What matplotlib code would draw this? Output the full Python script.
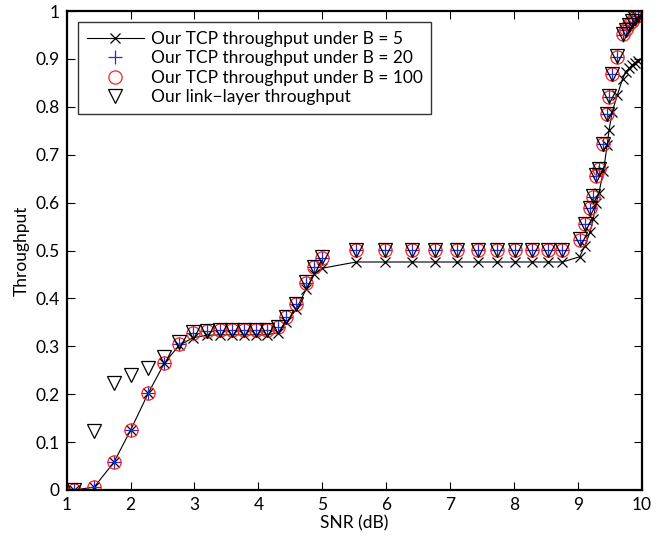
import matplotlib
matplotlib.use("Agg")
import matplotlib.pyplot as plt
from matplotlib.ticker import FixedLocator, FuncFormatter

plt.rcParams['font.family'] = ['Lato', 'DejaVu Sans']

snr = [1.115, 1.43, 1.74, 2.00, 2.28, 2.53, 2.76, 2.98, 3.19, 3.40, 3.59, 3.78,
       3.96, 4.13, 4.30, 4.44, 4.59, 4.75, 4.87, 5.00, 5.53, 5.98, 6.40, 6.76,
       7.11, 7.44, 7.74, 8.01, 8.29, 8.54, 8.76, 9.03, 9.11, 9.19, 9.24, 9.29,
       9.33, 9.40, 9.46, 9.49, 9.54, 9.62, 9.70, 9.75, 9.80, 9.85, 9.90, 9.95]

tcp_b5 = [0.0, 0.006, 0.058, 0.125, 0.203, 0.265, 0.302, 0.318, 0.323, 0.324, 0.324, 0.324,
          0.324, 0.324, 0.328, 0.350, 0.377, 0.420, 0.450, 0.463, 0.476, 0.476, 0.476, 0.476,
          0.476, 0.476, 0.476, 0.476, 0.476, 0.476, 0.476, 0.487, 0.510, 0.538, 0.565, 0.600,
          0.620, 0.665, 0.720, 0.752, 0.790, 0.825, 0.858, 0.873, 0.880, 0.887, 0.892, 0.895]

tcp_b20 = [0.0, 0.007, 0.059, 0.125, 0.203, 0.266, 0.305, 0.327, 0.331, 0.333, 0.334, 0.334,
           0.334, 0.334, 0.340, 0.361, 0.388, 0.433, 0.465, 0.485, 0.501, 0.501, 0.501, 0.501,
           0.501, 0.501, 0.501, 0.501, 0.501, 0.501, 0.501, 0.522, 0.555, 0.588, 0.612, 0.656,
           0.670, 0.722, 0.785, 0.821, 0.868, 0.905, 0.950, 0.960, 0.970, 0.978, 0.985, 0.990]

tcp_b100 = [0.0, 0.007, 0.059, 0.125, 0.203, 0.266, 0.305, 0.327, 0.331, 0.333, 0.334, 0.334,
            0.334, 0.334, 0.340, 0.361, 0.388, 0.433, 0.465, 0.485, 0.501, 0.501, 0.501, 0.501,
            0.501, 0.501, 0.501, 0.501, 0.501, 0.501, 0.501, 0.522, 0.555, 0.588, 0.612, 0.656,
            0.670, 0.722, 0.785, 0.821, 0.868, 0.905, 0.952, 0.962, 0.972, 0.980, 0.987, 0.992]

link_layer = [0.0, 0.123, 0.223, 0.240, 0.254, 0.278, 0.308, 0.329, 0.332, 0.334, 0.335, 0.335,
              0.335, 0.335, 0.341, 0.362, 0.389, 0.434, 0.466, 0.486, 0.502, 0.502, 0.502, 0.502,
              0.502, 0.502, 0.502, 0.502, 0.502, 0.502, 0.502, 0.523, 0.556, 0.589, 0.613, 0.657,
              0.671, 0.723, 0.786, 0.822, 0.869, 0.906, 0.951, 0.961, 0.971, 0.979, 0.986, 0.991]

labels = ['Our TCP throughput under B = 5', 'Our TCP throughput under B = 20',
          'Our TCP throughput under B = 100', 'Our link\u2212layer throughput']

fig = plt.figure(figsize=(6.71, 5.40), dpi=100)
ax = fig.add_axes([0.0994, 0.0926, 0.8569, 0.887])

ax.plot(snr, tcp_b5, color='black', lw=0.8, marker='x', ms=7, mew=0.9, label=labels[0])
ax.plot(snr, tcp_b20, ls='none', marker='+', ms=10, mew=0.9, color='#2b2bd0', label=labels[1])
ax.plot(snr, tcp_b100, ls='none', marker='o', ms=9.5, mew=0.9, mfc='none', mec='#ff2020', label=labels[2])
ax.plot(snr, link_layer, ls='none', marker='v', ms=10, mew=0.9, mfc='none', mec='black', label=labels[3])

ax.set_xlim(1, 10)
ax.set_ylim(0, 1)
ax.xaxis.set_major_locator(FixedLocator([1, 2, 3, 4, 5, 6, 7, 8, 9, 10]))
ax.yaxis.set_major_locator(FixedLocator([0, 0.1, 0.2, 0.3, 0.4, 0.5, 0.6, 0.7, 0.8, 0.9, 1.0]))
ax.yaxis.set_major_formatter(FuncFormatter(lambda v, p: '%g' % round(v, 1)))
ax.tick_params(direction='in', top=True, right=True, length=6, width=0.8, labelsize=12.5, pad=5)
for s in ax.spines.values():
    s.set_linewidth(1.6)

ax.set_xlabel('SNR (dB)', fontsize=12.5, labelpad=2)
ax.set_ylabel('Throughput', fontsize=12.5, labelpad=4)

leg = ax.legend(loc='upper left', bbox_to_anchor=(0.0197, 0.977), fontsize=12.5, handlelength=3.3,
                frameon=True, fancybox=False, borderpad=0.5, labelspacing=0.2, handletextpad=0.4,
                borderaxespad=0)
leg.get_frame().set_edgecolor('black')
leg.get_frame().set_linewidth(1.0)

fig.savefig('out.png', dpi=100)
